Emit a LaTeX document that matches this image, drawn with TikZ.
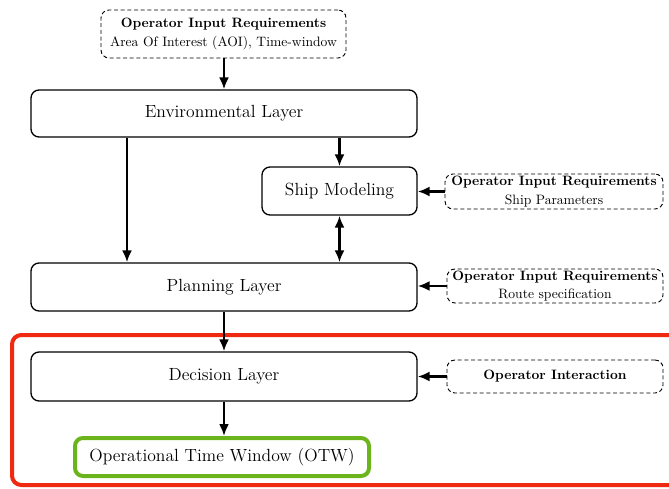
\documentclass[tikz,border=0pt]{standalone}
\usetikzlibrary{arrows.meta}
\definecolor{redframe}{HTML}{F02A10}
\definecolor{greenframe}{HTML}{6CB41C}
\begin{document}
\begin{tikzpicture}[x=0.75pt,y=-0.75pt,
  layer/.style={draw,line width=1pt,rounded corners=6pt,inner sep=0pt,font=\fontsize{13.2}{15}\selectfont},
  opbox/.style={draw,dash pattern=on 3pt off 2pt,line width=0.7pt,rounded corners=6pt,inner sep=0pt,align=center,font=\fontsize{10.2}{14}\selectfont},
  arr/.style={line width=1.7pt,-{Latex[length=9pt,width=7.5pt]}},
  darr/.style={line width=1.7pt,{Latex[length=9pt,width=7.5pt]}-{Latex[length=9pt,width=7.5pt]}}]
\useasboundingbox (0,0) rectangle (669,489);
\clip (0,0) rectangle (669,489);
\draw[redframe,line width=3pt,rounded corners=7pt] (12,335) rectangle (700,485);

\node[opbox,minimum width=183.75pt,minimum height=36pt] (aoi) at (223.5,34) {\textbf{Operator Input Requirements}\\Area Of Interest (AOI), Time-window};
\node[layer,minimum width=289.5pt,minimum height=35.25pt] (env) at (224,113.5) {Environmental Layer};
\node[layer,minimum width=116.25pt,minimum height=36pt] (ship) at (339.5,191) {Ship Modeling};
\node[opbox,minimum width=163.5pt,minimum height=26.25pt] (shp) at (554,191.5) {\textbf{Operator Input Requirements}\\Ship Parameters};
\node[layer,minimum width=289.5pt,minimum height=36pt] (plan) at (224,287) {Planning Layer};
\node[opbox,minimum width=162pt,minimum height=25.5pt] (route) at (555,286) {\textbf{Operator Input Requirements}\\Route specification};
\node[layer,minimum width=289.5pt,minimum height=36.75pt] (dec) at (224,376.5) {Decision Layer};
\node[opbox,minimum width=162pt,minimum height=24.75pt] (opi) at (555,376.5) {\textbf{Operator Interaction}};
\node[draw=greenframe,line width=3pt,rounded corners=6pt,inner sep=0pt,minimum width=220.5pt,minimum height=28.5pt,font=\fontsize{13.2}{15}\selectfont] (otw) at (222,457) {Operational Time Window (OTW)};

\draw[arr] (aoi.south -| env.north) -- (env.north);
\draw[arr] ([xshift=-72.75pt]env.south) -- ([xshift=-72.75pt]plan.north);
\draw[arr] (env.south -| ship.north) -- (ship.north);
\draw[darr] (ship.south) -- (plan.north -| ship.south);
\draw[arr] (shp.west) -- (shp.west -| ship.east);
\draw[arr] (route.west) -- (route.west -| plan.east);
\draw[arr] (plan.south) -- (dec.north);
\draw[arr] (opi.west) -- (opi.west -| dec.east);
\draw[arr] (dec.south) -- (dec.south |- otw.north);
\end{tikzpicture}
\end{document}
